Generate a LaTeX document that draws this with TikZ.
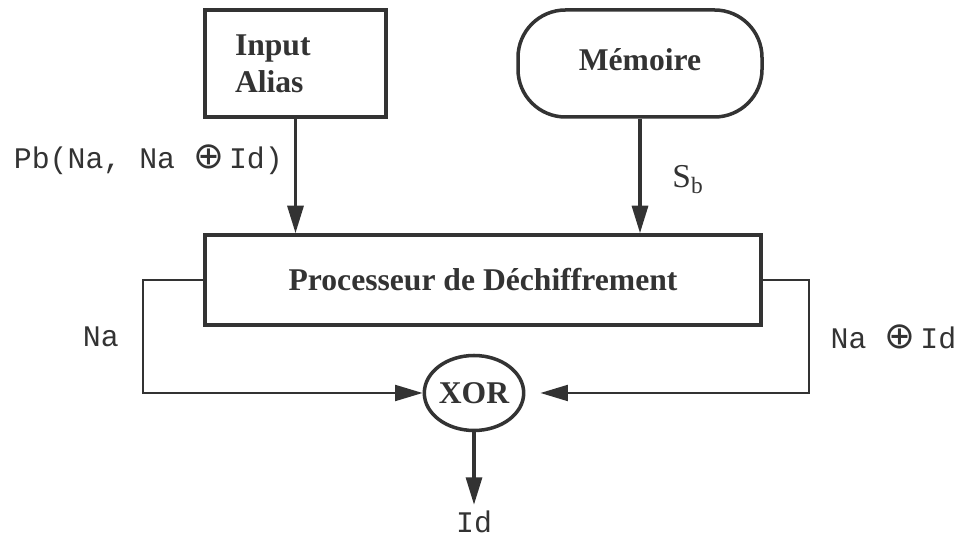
\documentclass[tikz,border=0pt]{standalone}
\usepackage{fontspec}
\setmainfont{Liberation Serif}
\setmonofont{Liberation Mono}
\newfontfamily\opfont{DejaVu Sans}
\newcommand{\xorsign}{{\opfont\fontsize{21}{21}\selectfont ⊕}\,}
\usetikzlibrary{arrows.meta,shapes.geometric}

\begin{document}
\begin{tikzpicture}[color=black!80, line join=miter,
      box/.style={draw, line width=2pt, font=\fontsize{18}{21}\selectfont\bfseries},
      lab/.style={font=\fontsize{17}{19}\selectfont\ttfamily},
      arr/.style={line width=1.8pt, -{Triangle[length=5.5mm, width=3.2mm]}},
      wire/.style={line width=1.2pt, -{Triangle[length=5.5mm, width=3.2mm]}}]
   \useasboundingbox (0,0) rectangle (19.4,10.78);
   \node[box, minimum width=3.62cm, minimum height=2.14cm, text width=2.42cm, align=left] (In) at (5.91,9.51) {Input\\Alias};
   \node[box, rounded corners=0.95cm, minimum width=4.88cm, minimum height=2.14cm] (Mem) at (12.8,9.51) {\raisebox{0.15cm}{Mémoire}};
   \node[box, minimum width=11.12cm, minimum height=1.8cm] (P) at (9.66,5.18) {Processeur de Déchiffrement};
   \node[box, ellipse, inner sep=0pt, minimum width=1.84cm, minimum height=1.5cm] (X) at (9.48,2.92) {XOR};
   \node[lab] (Id) at (9.48,0.34) {Id};
   \draw[arr] (In) -- (In |- P.north) node[pos=.36, left=3pt, lab] {Pb(Na, Na \xorsign{}Id)};
   \draw[arr] (Mem) -- (Mem |- P.north) node[pos=.53, right=0.5cm, font=\fontsize{19}{21}\selectfont] {S\textsubscript{b}};
   \draw[wire] (P.west) -- ++(-1.2,0) |- (X) node[pos=.25, left=0.35cm, lab] {Na};
   \draw[wire] (P.east) -- ++(0.92,0) |- ([xshift=0.3cm]X.east) node[pos=.25, right=0.3cm, lab] {Na \xorsign{}Id};
   \draw[arr] (X) -- (Id);
\end{tikzpicture}
\end{document}
